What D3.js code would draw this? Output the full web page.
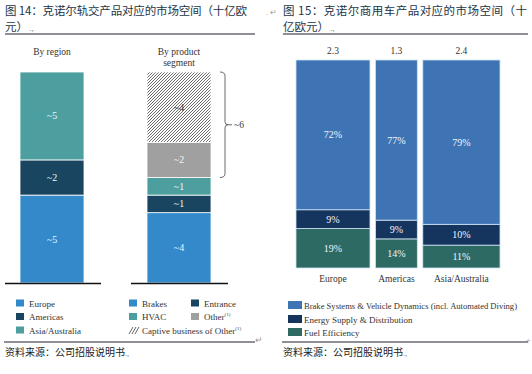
<!DOCTYPE html>
<html>
<head>
<meta charset="utf-8">
<script src="https://cdn.jsdelivr.net/npm/d3@7"></script>
<style>
  body { margin: 0; background: #fff; }
</style>
</head>
<body>
<div id="chart"></div>
<script>
// ---- data: rail market (fig 14) ----
var railGroups = ["By region", "By product segment"];
var regionCats = ["Europe", "Americas", "Asia/Australia"];
var regionVals = [5, 2, 5];
var productCats = ["Brakes", "Entrance", "HVAC", "Other", "Captive business of Other"];
var productVals = [4, 1, 1, 2, 4];
var braceLabel = "~6";

// ---- data: commercial vehicle market (fig 15) ----
var cvRegions = ["Europe", "Americas", "Asia/Australia"];
var cvTotals = [2.3, 1.3, 2.4];
var cvSeries = ["Fuel Efficiency", "Energy Supply & Distribution", "Brake Systems & Vehicle Dynamics (incl. Automated Diving)"];
var cvFuel = [19, 14, 11];
var cvEnergy = [9, 9, 10];
var cvBrake = [72, 77, 79];

var SERIF = "'Liberation Serif', 'Times New Roman', 'DejaVu Serif', serif";
var CJK = "'Noto Sans CJK SC', sans-serif";

var W = 532, H = 374;
var svg = d3.select("#chart").append("svg")
    .attr("width", W)
    .attr("height", H);

var defs = svg.append("defs");
var pat = defs.append("pattern")
    .attr("id", "hatch")
    .attr("patternUnits", "userSpaceOnUse")
    .attr("width", 3).attr("height", 3);
pat.append("rect").attr("width", 3).attr("height", 3).attr("fill", "#fff");
pat.append("path")
    .attr("d", "M0,3 L3,0 M-1,1 L1,-1 M2,4 L4,2")
    .attr("stroke", "#5a5a5a")
    .attr("stroke-width", 0.9);

var titleColor = "#243447";

function serifText(x, y, size, txt, anchor, fill) {
  return svg.append("text")
    .style("font-family", SERIF)
    .attr("x", x).attr("y", y)
    .attr("text-anchor", anchor || "start")
    .attr("font-size", size)
    .attr("fill", fill || "#333")
    .text(txt);
}

// ---------- headers ----------
function header(x, line1, len1, line2, x2) {
  svg.append("text").style("font-family", CJK)
    .attr("x", x).attr("y", 15)
    .attr("font-size", "11.5px")
    .attr("fill", titleColor)
    .attr("textLength", len1)
    .attr("lengthAdjust", "spacing")
    .text(line1);
  var t2 = svg.append("text").style("font-family", CJK)
    .attr("x", x).attr("y", 31)
    .attr("font-size", "11.5px")
    .attr("fill", titleColor);
  t2.append("tspan").text(line2);
  t2.append("tspan").attr("font-size", "7px").attr("fill", "#888").text(" .,");
  svg.append("line")
    .attr("x1", x).attr("x2", x2)
    .attr("y1", 34).attr("y2", 34)
    .attr("stroke", "#1c2430").attr("stroke-width", 1.2);
}
header(5, "图 14：克诺尔轨交产品对应的市场空间（十亿欧", 242, "元）", 255);
header(283, "图  15：克诺尔商用车产品对应的市场空间（十", 244, "亿欧元）", 528);

// little word-processor marks
svg.append("text").attr("x", 266).attr("y", 15).attr("font-size", "8px").attr("fill", "#999").text(".");
svg.append("text").attr("x", 270).attr("y", 15).attr("font-size", "8px").attr("fill", "#999").style("font-family", CJK).text("↵");
svg.append("text").attr("x", 255).attr("y", 343).attr("font-size", "9px").attr("fill", "#999").style("font-family", CJK).text("↵");
svg.append("text").attr("x", 526).attr("y", 343).attr("font-size", "8px").attr("fill", "#999").text("+");

// ---------- figure 14 ----------
var colRegion = ["#3389c9", "#1a4560", "#4d9e9f"];
var colProduct = ["#3389c9", "#1a4560", "#4d9e9f", "#a0a0a0", "url(#hatch)"];

var xr = d3.scalePoint().domain(railGroups).range([52, 179]);
var yr = d3.scaleLinear().domain([0, 12]).range([283, 72]);
var bw = 64;

function stackCol(group, vals, cols, textCols) {
  var cum = 0;
  vals.forEach(function(v, i) {
    var y0 = yr(cum), y1 = yr(cum + v);
    svg.append("rect")
      .attr("x", xr(group) - bw / 2)
      .attr("y", y1)
      .attr("width", bw)
      .attr("height", y0 - y1)
      .attr("fill", cols[i])
      .attr("stroke", "#fff")
      .attr("stroke-width", 0.8);
    serifText(xr(group), (y0 + y1) / 2 + 3.5, "10px", "~" + v, "middle", textCols[i]);
    cum += v;
  });
}
stackCol(railGroups[0], regionVals, colRegion, ["#e6f6ff", "#e6f6ff", "#e6f6ff"]);
stackCol(railGroups[1], productVals, colProduct, ["#e6f6ff", "#e6f6ff", "#e6f6ff", "#f4f4f4", "#333"]);

// group titles
serifText(xr(railGroups[0]), 55, "9.5px", "By region", "middle");
serifText(xr(railGroups[1]), 55, "9.5px", "By product", "middle");
serifText(xr(railGroups[1]), 66, "9.5px", "segment", "middle");

// baselines
svg.append("line").attr("x1", 5).attr("x2", 101).attr("y1", yr(0) + 0.5).attr("y2", yr(0) + 0.5)
  .attr("stroke", "#111").attr("stroke-width", 1.5);
svg.append("line").attr("x1", 131).attr("x2", 228).attr("y1", yr(0) + 0.5).attr("y2", yr(0) + 0.5)
  .attr("stroke", "#111").attr("stroke-width", 1.5);

// brace around "Other" + "Captive"
var bTop = yr(12), bBot = yr(6), bMid = (bTop + bBot) / 2, bx = 225;
svg.append("path")
  .attr("d", "M" + (bx - 5) + "," + bTop + " Q" + bx + "," + bTop + " " + bx + "," + (bTop + 4) +
             " L" + bx + "," + (bMid - 3) + " Q" + bx + "," + bMid + " " + (bx + 3) + "," + bMid +
             " Q" + bx + "," + bMid + " " + bx + "," + (bMid + 3) +
             " L" + bx + "," + (bBot - 4) + " Q" + bx + "," + bBot + " " + (bx - 5) + "," + bBot +
             " M" + (bx + 3) + "," + bMid + " L" + (bx + 7) + "," + bMid)
  .attr("fill", "none").attr("stroke", "#444").attr("stroke-width", 0.8);
serifText(bx + 9, bMid + 3.5, "9.5px", braceLabel);

// legends fig 14
function legItem(x, y, fill, label, sup) {
  if (fill === "hatchIcon") {
    svg.append("path")
      .attr("d", "M" + x + "," + (y + 4) + " L" + (x + 4) + "," + (y - 3) +
                 " M" + (x + 3) + "," + (y + 4) + " L" + (x + 7) + "," + (y - 3) +
                 " M" + (x + 6) + "," + (y + 4) + " L" + (x + 10) + "," + (y - 3))
      .attr("stroke", "#555").attr("stroke-width", 0.9);
  } else {
    svg.append("rect").attr("x", x).attr("y", y - 3.5).attr("width", 8).attr("height", 7).attr("fill", fill);
  }
  var t = serifText(x + 13, y + 3.5, "9px", null);
  t.append("tspan").text(label);
  if (sup) t.append("tspan").attr("font-size", "5px").attr("dy", -4).text("(1)");
}
var legRows = [303, 316.5, 330];
regionCats.forEach(function(c, i) { legItem(16, legRows[i], colRegion[i], c); });
legItem(129, legRows[0], colProduct[0], productCats[0]);
legItem(191, legRows[0], colProduct[1], productCats[1]);
legItem(129, legRows[1], colProduct[2], productCats[2]);
legItem(191, legRows[1], colProduct[3], productCats[3], true);
legItem(129, legRows[2], "hatchIcon", productCats[4], true);

// ---------- figure 15 ----------
var colCv = ["#2d6a63", "#15345e", "#3f74b4"];
var cvShares = [cvFuel, cvEnergy, cvBrake];
var gap = 5.5;
var totalSum = d3.sum(cvTotals);
var xc = d3.scaleLinear().domain([0, totalSum]).range([296, 500 - 2 * gap]);
var yc = d3.scaleLinear().domain([0, 100]).range([268, 60]);

var cumT = 0;
cvRegions.forEach(function(reg, i) {
  var x0 = xc(cumT) + i * gap;
  var w = xc(cumT + cvTotals[i]) - xc(cumT);
  var cx = x0 + w / 2;
  var cum = 0;
  cvShares.forEach(function(arr, s) {
    var v = arr[i];
    var y0 = yc(cum), y1 = yc(cum + v);
    svg.append("rect")
      .attr("x", x0).attr("y", y1)
      .attr("width", w).attr("height", y0 - y1)
      .attr("fill", colCv[s])
      .attr("stroke", "#cfe3f5").attr("stroke-width", 0.8);
    serifText(cx, (y0 + y1) / 2 + 3.5, "10px", v + "%", "middle", "#eef4ff");
    cum += v;
  });
  serifText(cx, 54, "9.5px", cvTotals[i], "middle");
  serifText(cx, 282, "9.5px", reg, "middle");
  cumT += cvTotals[i];
});

// legend fig 15 (brake first)
var cvLegRows = [305, 319, 332];
[2, 1, 0].forEach(function(s, r) {
  svg.append("rect").attr("x", 288).attr("y", cvLegRows[r] - 4).attr("width", 14).attr("height", 8).attr("fill", colCv[s]);
  var t = serifText(304, cvLegRows[r] + 3.5, "9px", cvSeries[s]);
  if (s === 2) t.attr("textLength", 213).attr("lengthAdjust", "spacingAndGlyphs");
});

// bottom rules and source
[[4, 255], [282, 528]].forEach(function(p) {
  svg.append("line").attr("x1", p[0]).attr("x2", p[1]).attr("y1", 342).attr("y2", 342)
    .attr("stroke", "#1c2430").attr("stroke-width", 1.2);
});
[5, 283].forEach(function(x) {
  var t = svg.append("text").style("font-family", CJK)
    .attr("x", x).attr("y", 356)
    .attr("font-size", "10px").attr("fill", "#222");
  t.append("tspan").text("资料来源：公司招股说明书");
  t.append("tspan").attr("font-size", "7px").attr("fill", "#888").text(".,");
});
</script>
</body>
</html>
